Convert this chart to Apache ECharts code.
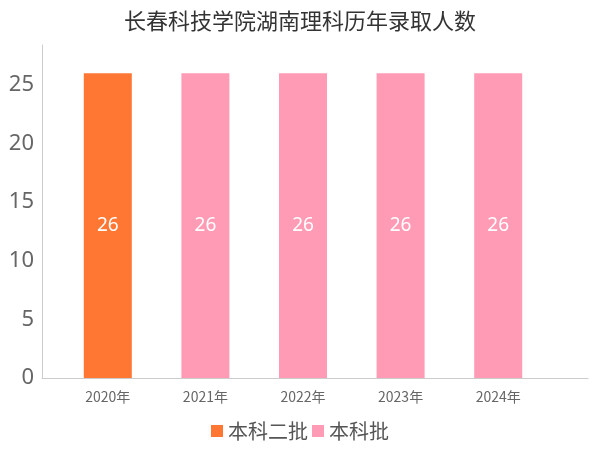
<!DOCTYPE html><html><head><meta charset="utf-8"><script src="https://cdn.jsdelivr.net/npm/echarts@6/dist/echarts.min.js"></script></head><body style="margin:0"><div id="c" style="width:600px;height:450px"></div><script>
const categories=['2020年','2021年','2022年','2023年','2024年'];
const s1Name='本科二批', s2Name='本科批';
const s1=[26,null,null,null,null];
const s2=[null,26,26,26,26];
const c=echarts.init(document.getElementById('c'));
const lbl={show:true,position:'inside',color:'#fff',fontSize:19,fontFamily:'Noto Sans'};
c.setOption({
title:{text:'长春科技学院湖南理科历年录取人数',left:'center',top:5,textStyle:{fontSize:22,fontWeight:'normal',color:'#333',fontFamily:'Noto Sans CJK SC'}},
legend:{bottom:4,itemWidth:12,itemHeight:12,itemGap:4,icon:'rect',textStyle:{fontSize:20,color:'#555',fontFamily:'Noto Sans CJK SC'},data:[s1Name,s2Name]},
grid:[{left:59,right:53,top:45,bottom:72},{left:42,right:12,top:45,bottom:72}],
xAxis:[{type:'category',data:categories,axisTick:{show:false},axisLine:{show:false},axisLabel:{fontSize:14,color:'#666',margin:12,fontFamily:'Noto Sans CJK SC'}},
{gridIndex:1,type:'value',min:0,max:1,axisLine:{show:true,lineStyle:{color:'#ccc'}},axisTick:{show:false},axisLabel:{show:false},splitLine:{show:false}}],
yAxis:[{type:'value',min:0,max:28.4,interval:5,offset:17,splitLine:{show:false},axisLine:{show:true,lineStyle:{color:'#ccc'}},axisLabel:{fontSize:22,color:'#666',fontFamily:'Noto Sans',formatter:v=>v%5===0?v:''}},
{gridIndex:1,type:'value',show:false}],
series:[
{name:s1Name,type:'bar',stack:'a',barWidth:48,data:s1,itemStyle:{color:'#ff7733'},label:lbl},
{name:s2Name,type:'bar',stack:'a',barWidth:48,data:s2,itemStyle:{color:'#ff9bb5'},label:lbl}
]});
</script></body></html>
